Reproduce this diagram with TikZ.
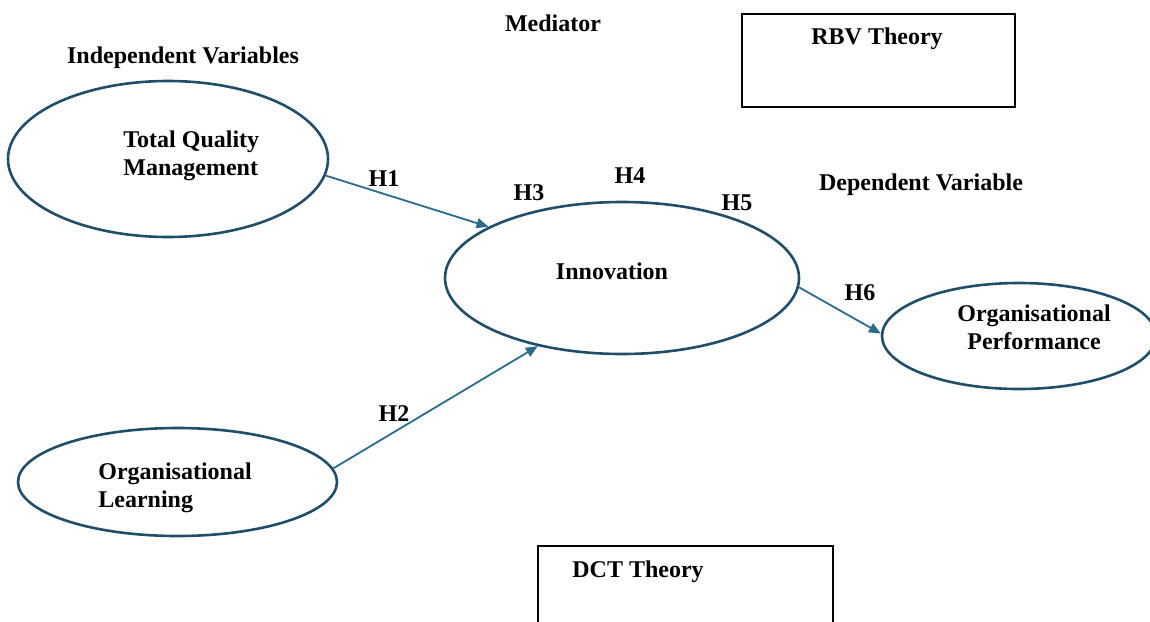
\documentclass[tikz,border=0pt]{standalone}
\usepackage{fontspec}
\setmainfont{Liberation Serif}
\usetikzlibrary{shapes.geometric,arrows.meta,positioning}
\definecolor{ovalblue}{HTML}{1F4E69}
\definecolor{arrowblue}{HTML}{2B6B8B}
\begin{document}
\begin{tikzpicture}[x=0.5pt, y=-0.5pt,
  every node/.style={font=\bfseries\fontsize{12}{14}\selectfont, inner sep=0pt},
  construct/.style={ellipse, draw=ovalblue, line width=1.3pt},
  theorybox/.style={rectangle, draw=black, line width=1pt},
  hyp/.style={-{Triangle[length=6pt,width=5pt]}, draw=arrowblue, line width=0.9pt}]
\clip (0,0) rectangle (1150,621);
\node [theorybox, minimum width=136.5pt, minimum height=46.5pt] (rbv) at (878.5,60.5) {};
\node [theorybox, minimum width=147.5pt, minimum height=50pt] (dct) at (685.5,596) {};
\node [construct, minimum width=160pt, minimum height=78pt] (tqm) at (168,159) {};
\node [construct, minimum width=177pt, minimum height=76pt] (inno) at (622,278) {};
\node [construct, minimum width=159.5pt, minimum height=54pt] (ol) at (177.5,482) {};
\node [construct, minimum width=137pt, minimum height=53pt] (op) at (1019,336) {};
\node (mediator) at (553,23) {Mediator};
\node (indep) at (183,58) {Independent Variables};
\node (dep) at (921,185) {Dependent Variable};
\node (rbvtext) at (877,39) {RBV Theory};
\node (dcttext) at (638,572) {DCT Theory};
\node [anchor=west, align=left] (tqmtext) at (123,156) {Total Quality\\Management};
\node (innotext) at (612,271) {Innovation};
\node [anchor=west, align=left] (oltext) at (98,488) {Organisational\\Learning};
\node [align=center] (optext) at (1034,327) {Organisational\\Performance};
\node (h1) at (384,179) {H1};
\node (h2) at (394,414) {H2};
\node (h3) at (529,193) {H3};
\node (h4) at (630,176) {H4};
\node (h5) at (737,203) {H5};
\node (h6) at (860,293) {H6};
\path
(tqm.-6) edge [hyp] (inno.159)
(ol.5) edge [hyp] (inno.-141)
(inno.-3) edge [hyp] (op.179);
\end{tikzpicture}
\end{document}
